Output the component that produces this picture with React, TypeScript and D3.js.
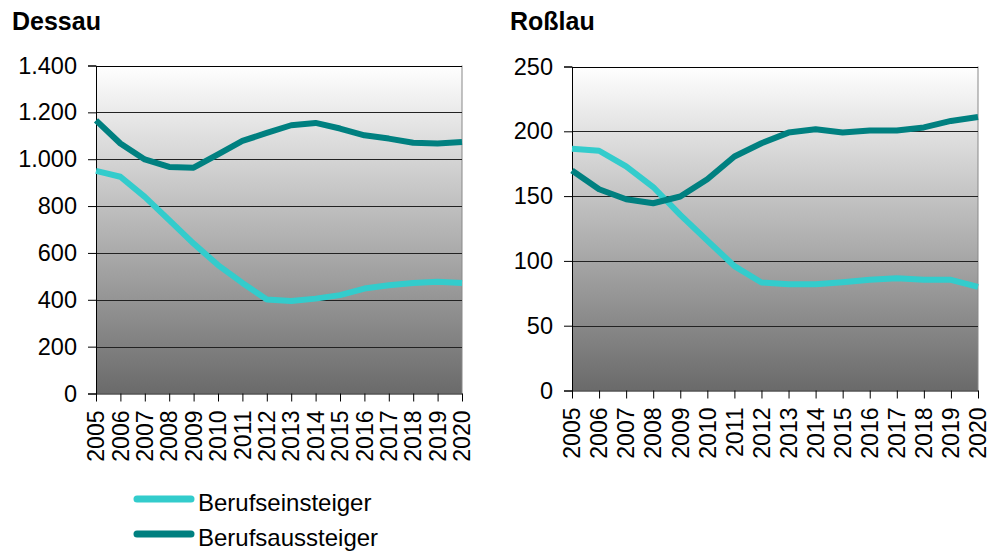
import { useRef, useEffect } from 'react';
import * as d3 from 'd3';

const years = ['2005', '2006', '2007', '2008', '2009', '2010', '2011', '2012', '2013', '2014', '2015', '2016', '2017', '2018', '2019', '2020'];

const dessauEin = [950, 925, 839, 740, 640, 548, 472, 401, 395, 405, 420, 448, 462, 472, 477, 472];
const dessauAus = [1166, 1067, 999, 967, 964, 1021, 1078, 1112, 1145, 1155, 1131, 1102, 1088, 1070, 1067, 1073];

const rosslauEin = [186.5, 185, 173, 157, 135.5, 115.7, 96, 83.3, 82, 82, 83.6, 85.4, 86.7, 85.4, 85.4, 80];
const rosslauAus = [169.8, 155.3, 147.6, 144.5, 149.7, 163, 180.6, 190.8, 199, 201.6, 199, 200.6, 200.6, 203, 208, 211];

const seriesNames = ['Berufseinsteiger', 'Berufsaussteiger'];
const seriesColors = ['#33CCCC', '#008080'];

const FONT = "'Liberation Sans', Arial, sans-serif";

interface PanelSpec {
  title: string;
  titleX: number;
  left: number;
  right: number;
  top: number;
  bottom: number;
  max: number;
  step: number;
  ein: number[];
  aus: number[];
}

const panels: PanelSpec[] = [
  { title: 'Dessau', titleX: 12, left: 96, right: 462, top: 65.5, bottom: 393.5, max: 1400, step: 200, ein: dessauEin, aus: dessauAus },
  { title: 'Roßlau', titleX: 510, left: 572, right: 978, top: 66.5, bottom: 390.5, max: 250, step: 50, ein: rosslauEin, aus: rosslauAus },
];

const fmt = (v: number) => d3.format(',')(v).replace(/,/g, '.');

export default function App() {
  const svgRef = useRef<SVGSVGElement>(null);

  useEffect(() => {
    const svg = d3.select(svgRef.current);
    svg.selectAll('*').remove();

    const defs = svg.append('defs');
    const grad = defs.append('linearGradient')
      .attr('id', 'bg')
      .attr('x1', 0).attr('y1', 0).attr('x2', 0).attr('y2', 1);
    grad.append('stop').attr('offset', '0%').attr('stop-color', '#ffffff');
    grad.append('stop').attr('offset', '100%').attr('stop-color', '#6a6a6a');

    panels.forEach((p) => {
      const g = svg.append('g');
      const x = d3.scalePoint<string>().domain(years).range([p.left, p.right]);
      const y = d3.scaleLinear().domain([0, p.max]).range([p.bottom, p.top]);
      const ticks = d3.range(0, p.max + p.step / 2, p.step);

      g.append('rect')
        .attr('x', p.left).attr('y', p.top)
        .attr('width', p.right - p.left).attr('height', p.bottom - p.top)
        .attr('fill', 'url(#bg)');

      // right border
      g.append('line')
        .attr('x1', p.right).attr('x2', p.right)
        .attr('y1', p.top).attr('y2', p.bottom)
        .attr('stroke', '#888').attr('stroke-width', 1);

      // gridlines
      g.selectAll('.grid')
        .data(ticks.filter((t) => t > 0))
        .join('line')
        .attr('x1', p.left).attr('x2', p.right)
        .attr('y1', (d) => Math.round(y(d)) + 0.5).attr('y2', (d) => Math.round(y(d)) + 0.5)
        .attr('stroke', (d) => (d === p.max ? '#000' : '#222'))
        .attr('stroke-width', 1);

      // y axis
      g.append('g')
        .attr('transform', `translate(${p.left},0)`)
        .call(d3.axisLeft(y).tickValues(ticks).tickSize(8).tickPadding(11).tickFormat((d) => fmt(d as number)))
        .call((s) => s.select('.domain').attr('stroke', '#000'))
        .call((s) => s.selectAll('.tick line').attr('stroke', '#000'))
        .call((s) => s.selectAll('.tick text')
          .attr('fill', '#000')
          .attr('font-size', '23.5px')
          .attr('font-family', FONT));

      // x axis
      g.append('g')
        .attr('transform', `translate(0,${p.bottom})`)
        .call(d3.axisBottom(x).tickSize(8).tickSizeOuter(0).tickFormat(() => ''))
        .call((s) => s.select('.domain').attr('stroke', '#000'))
        .call((s) => s.selectAll('.tick line').attr('stroke', '#000'));

      g.selectAll('.year')
        .data(years)
        .join('text')
        .attr('transform', (d) => `translate(${x(d)},${p.bottom + 17}) rotate(-90)`)
        .attr('text-anchor', 'end')
        .attr('dy', '0.36em')
        .attr('fill', '#000')
        .attr('font-size', '23px')
        .attr('font-family', FONT)
        .text((d) => d);

      // lines
      const line = d3.line<number>()
        .x((_d, i) => x(years[i]) as number)
        .y((d) => y(d));

      [p.ein, p.aus].forEach((vals, i) => {
        g.append('path')
          .datum(vals)
          .attr('d', line)
          .attr('fill', 'none')
          .attr('stroke', seriesColors[i])
          .attr('stroke-width', 6)
          .attr('stroke-linejoin', 'round');
      });

      g.append('text')
        .attr('x', p.titleX).attr('y', 30)
        .attr('fill', '#000')
        .attr('font-size', '25px')
        .attr('font-weight', 'bold')
        .attr('font-family', FONT)
        .text(p.title);
    });

    // legend
    const lg = svg.append('g');
    seriesNames.forEach((name, i) => {
      const ly = 499 + i * 35;
      lg.append('line')
        .attr('x1', 137).attr('x2', 191)
        .attr('y1', ly).attr('y2', ly)
        .attr('stroke', seriesColors[i])
        .attr('stroke-width', 7)
        .attr('stroke-linecap', 'round');
      lg.append('text')
        .attr('x', 198).attr('y', ly + 12)
        .attr('fill', '#000')
        .attr('font-size', '24px')
        .attr('font-family', FONT)
        .text(name);
    });
  }, []);

  return (
    <svg
      ref={svgRef}
      width={987}
      height={551}
      viewBox="0 0 987 551"
      style={{ position: 'absolute', left: 0, top: 0, display: 'block', background: '#fff' }}
    />
  );
}
